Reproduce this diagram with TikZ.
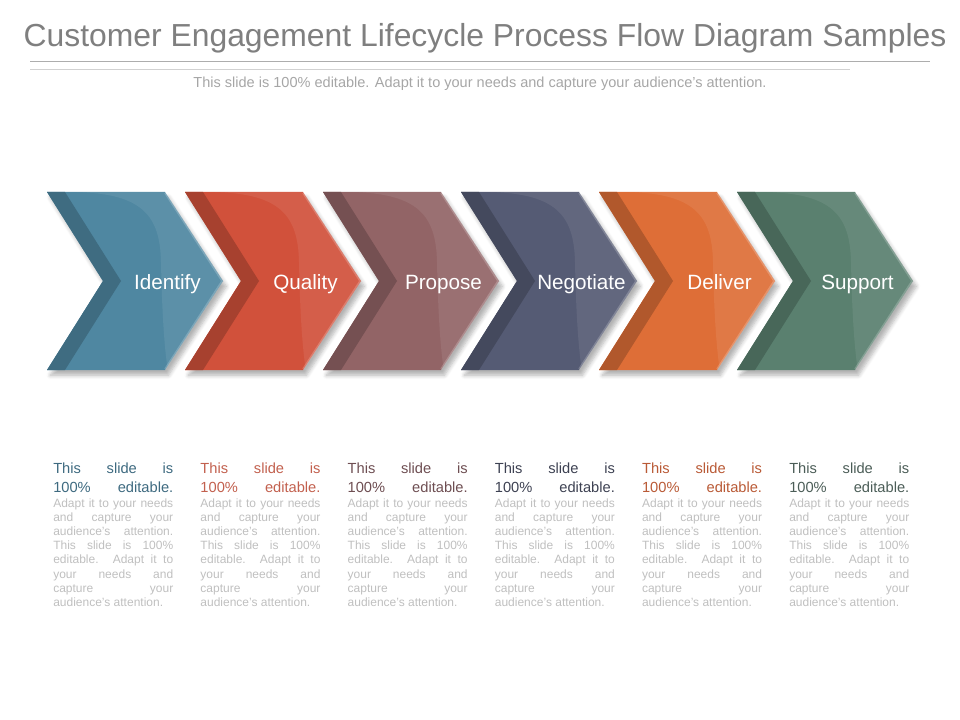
\documentclass[tikz,border=0pt]{standalone}
\usepackage{fontspec}
\setmainfont{Liberation Sans}
\usetikzlibrary{shadows.blur}

% chevron fills
\definecolor{cIdentify}{HTML}{4F87A1}
\definecolor{cQuality}{HTML}{D1513B}
\definecolor{cPropose}{HTML}{926466}
\definecolor{cNegotiate}{HTML}{555B74}
\definecolor{cDeliver}{HTML}{DE6E37}
\definecolor{cSupport}{HTML}{5A806F}
% heading colours of the text blocks
\definecolor{tIdentify}{HTML}{3E6A80}
\definecolor{tQuality}{HTML}{C2604E}
\definecolor{tPropose}{HTML}{6E4E52}
\definecolor{tNegotiate}{HTML}{3D4152}
\definecolor{tDeliver}{HTML}{B95A36}
\definecolor{tSupport}{HTML}{4B5D57}
\definecolor{titlegray}{HTML}{7F7F7F}
\definecolor{subgray}{HTML}{A6A6A6}
\definecolor{bodygray}{HTML}{BFBFBF}

\newcommand{\blurbtext}[1]{%
  \parindent=0pt \tolerance=10000 \hbadness=10000 \hyphenpenalty=10000
  {\color{#1}\fontsize{11}{14}\selectfont\parfillskip=0pt
   This slide is\linebreak 100\% editable.\par}%
  \vspace{0.3pt}%
  {\fontsize{9}{10.65}\selectfont
   Adapt it to your needs\linebreak and capture your\linebreak
   audience’s attention.\linebreak This slide is 100\%\linebreak
   editable. Adapt it to\linebreak your needs and\linebreak
   capture your\linebreak audience’s attention.\par}}

\tikzset{
  title/.style={text=titlegray, font=\fontsize{23.9}{28}\selectfont, inner sep=0pt, anchor=base},
  subtitle/.style={text=subgray, font=\fontsize{10.9}{13}\selectfont, inner sep=0pt, anchor=base},
  steplabel/.style={text=white, font=\fontsize{15.5}{18}\selectfont, inner sep=0pt, anchor=base},
  blurb/.style={text=bodygray, text width=90pt, align=justify, inner sep=0pt, anchor=north west},
}

\begin{document}
\begin{tikzpicture}[x=0.75pt,y=-0.75pt]
\useasboundingbox (0,0) rectangle (960,720);

% Header
\node[title] (title) at (485,47) {Customer Engagement Lifecycle Process Flow Diagram Samples};
\draw[black!32, line width=0.6pt] (30,61) -- (930,61);
\draw[black!18, line width=0.6pt] (30,69) -- (850,69);
\node[subtitle] (sub) at (480,88) {This slide is 100\% editable. Adapt it to your needs and capture your audience's attention.};

% Chevrons and text blocks
\foreach \i/\name in {0/Identify,1/Quality,2/Propose,3/Negotiate,4/Deliver,5/Support}{
  \pgfmathsetmacro{\xa}{47+138*\i}
  \begin{scope}[shift={(\xa,0)}]
    \fill[c\name, blur shadow={shadow xshift=2.5pt, shadow yshift=-4pt, shadow blur radius=3pt, shadow opacity=30, shadow blur steps=6}]
      (0,192) -- (118,192) -- (176,281) -- (118,370) -- (0,370) -- (56,281) -- cycle;
    % dark band
    \fill[c\name!80!black] (0,192) -- (18,192) -- (74,281) -- (18,370) -- (0,370) -- (56,281) -- cycle;
    % highlight
    \begin{scope}
      \clip (18,192) -- (118,192) -- (176,281) -- (118,370) -- (18,370) -- (74,281) -- cycle;
      \fill[white,opacity=0.08] (30,192) .. controls (95,194) and (113,215) .. (114,262)
        .. controls (115,310) and (117,345) .. (121,372) -- (190,372) -- (190,190) -- cycle;
    \end{scope}
    \draw[white,opacity=0.2,line width=1.2pt] (118,193) -- (175,281) -- (118,369);
    \node[steplabel] (lbl\i) at (120.5,290) {\name};
  \end{scope}
  \node[blurb] (txt\i) at ({53+147.2*\i},463) {\blurbtext{t\name}};
}

\end{tikzpicture}
\end{document}
